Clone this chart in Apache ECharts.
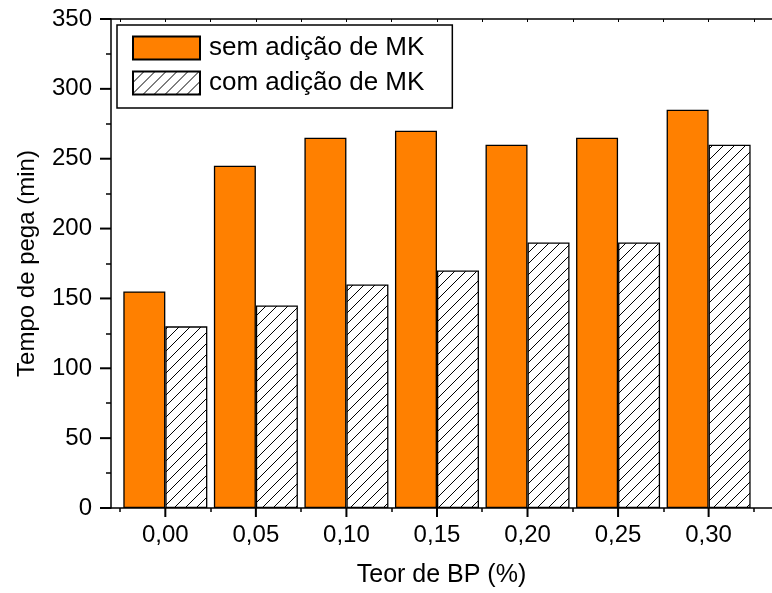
<!DOCTYPE html>
<html><head><meta charset="utf-8">
<script src="https://cdn.jsdelivr.net/npm/echarts@6/dist/echarts.min.js"></script>
<style>html,body{margin:0;padding:0;background:#fff}#c{width:772px;height:593px}</style>
</head><body><div id="c"></div>
<script>
const teorBP = [0.00, 0.05, 0.10, 0.15, 0.20, 0.25, 0.30];
const tickLabels = ['0,00', '0,05', '0,10', '0,15', '0,20', '0,25', '0,30'];
const semMK = [155, 245, 265, 270, 260, 265, 285];
const comMK = [130, 145, 160, 170, 190, 190, 260];
const yTicks = [0, 50, 100, 150, 200, 250, 300, 350];
const seriesNames = ['sem adição de MK', 'com adição de MK'];
const xTitle = 'Teor de BP (%)';
const yTitle = 'Tempo de pega (min)';

const FONT = '"Liberation Sans", Arial, sans-serif';
const half = 0.025;
const minorX = teorBP.map(v => +(v - half).toFixed(3)).concat([+(teorBP[teorBP.length - 1] + half).toFixed(3)]);
const topX = minorX.concat(teorBP).sort((a, b) => a - b);
const minorY = yTicks.slice(0, -1).map(v => v + 25);

function hatch() {
  const s = 11, c = document.createElement('canvas');
  c.width = s; c.height = s;
  const g = c.getContext('2d');
  g.fillStyle = '#fff'; g.fillRect(0, 0, s, s);
  g.strokeStyle = '#000'; g.lineWidth = 1;
  g.beginPath(); g.moveTo(-1, s + 1); g.lineTo(s + 1, -1); g.stroke();
  g.beginPath(); g.moveTo(-1, 1); g.lineTo(1, -1); g.stroke();
  g.beginPath(); g.moveTo(s - 1, s + 1); g.lineTo(s + 1, s - 1); g.stroke();
  return c;
}

const chart = echarts.init(document.getElementById('c'), null, {renderer: 'canvas'});
const lineStyle = {color: '#000', width: 1.5};
const xMin = -0.03, xMax = 0.335;

function tickAxis(position, min, max, values, length, inside, width) {
  return {
    type: 'value', position: position, min: min, max: max, gridIndex: 0,
    axisLine: {show: false, onZero: false},
    axisTick: {show: true, inside: inside, length: length, customValues: values, lineStyle: {color: '#000', width: width}},
    axisLabel: {show: false},
    splitLine: {show: false}
  };
}

chart.setOption({
  animation: false,
  backgroundColor: '#fff',
  textStyle: {fontFamily: FONT, color: '#000'},
  grid: {left: 111, top: 19, width: 681.3, height: 489, containLabel: false},
  legend: {
    orient: 'vertical', left: 117, top: 25,
    padding: [10, 28, 12, 15], itemGap: 9,
    itemWidth: 67, itemHeight: 23,
    borderColor: '#000', borderWidth: 1.5,
    icon: 'rect',
    textStyle: {fontSize: 26, color: '#000', fontFamily: FONT, padding: [0, 0, 0, 4]},
    data: seriesNames
  },
  xAxis: [
    {
      type: 'value', position: 'bottom', min: xMin, max: xMax,
      name: xTitle, nameLocation: 'middle', nameGap: 55,
      nameTextStyle: {fontSize: 25, color: '#000', fontFamily: FONT},
      axisLine: {show: true, onZero: false, lineStyle: lineStyle},
      axisTick: {show: false},
      axisLabel: {show: true, customValues: teorBP, fontSize: 24, color: '#000', margin: 15, fontFamily: FONT,
        formatter: v => { const i = teorBP.findIndex(t => Math.abs(t - v) < 1e-9); return i >= 0 ? tickLabels[i] : ''; }},
      splitLine: {show: false}
    },
    tickAxis('bottom', xMin, xMax, minorX, 4, false, 1.5),
    Object.assign(tickAxis('top', xMin, xMax, topX, 3, true, 1), {axisLine: {show: true, onZero: false, lineStyle: lineStyle}})
  ],
  yAxis: [
    {
      type: 'value', position: 'left', min: 0, max: 350, interval: 50,
      name: yTitle, nameLocation: 'middle', nameGap: 72, nameRotate: 90,
      nameTextStyle: {fontSize: 24, color: '#000', fontFamily: FONT},
      axisLine: {show: true, onZero: false, lineStyle: lineStyle},
      axisTick: {show: false},
      axisLabel: {fontSize: 24, color: '#000', margin: 19, fontFamily: FONT},
      splitLine: {show: false}
    },
    tickAxis('left', 0, 350, minorY, 5, false, 1.5)
  ],
  series: [
    {
      name: seriesNames[0], type: 'bar', xAxisIndex: 0, yAxisIndex: 0,
      data: teorBP.map((x, i) => [x, semMK[i]]),
      barWidth: 42, barGap: '0%',
      itemStyle: {color: '#FF8000', borderColor: '#000', borderWidth: 1.3}
    },
    {
      name: seriesNames[1], type: 'bar', xAxisIndex: 0, yAxisIndex: 0,
      data: teorBP.map((x, i) => [x, comMK[i]]),
      barWidth: 42, barGap: '0%',
      itemStyle: {color: {image: hatch(), repeat: 'repeat'}, borderColor: '#000', borderWidth: 1.3}
    }
  ]
});

// major ticks, placed through the library's own scales
const axX = chart.convertToPixel({xAxisIndex: 0}, xMin);
const axY = chart.convertToPixel({yAxisIndex: 0}, 0);
const tickStyle = {stroke: '#000000', lineWidth: 2};
const ticks = [];
yTicks.forEach(v => {
  const py = chart.convertToPixel({yAxisIndex: 0}, v);
  ticks.push({type: 'line', shape: {x1: axX - 11, y1: py, x2: axX, y2: py}, style: tickStyle, z: 100, zlevel: 1});
});
teorBP.forEach(v => {
  const px = chart.convertToPixel({xAxisIndex: 0}, v);
  ticks.push({type: 'line', shape: {x1: px, y1: axY, x2: px, y2: axY + 9}, style: tickStyle, z: 100, zlevel: 1});
});
chart.setOption({graphic: {elements: ticks}});
</script></body></html>
